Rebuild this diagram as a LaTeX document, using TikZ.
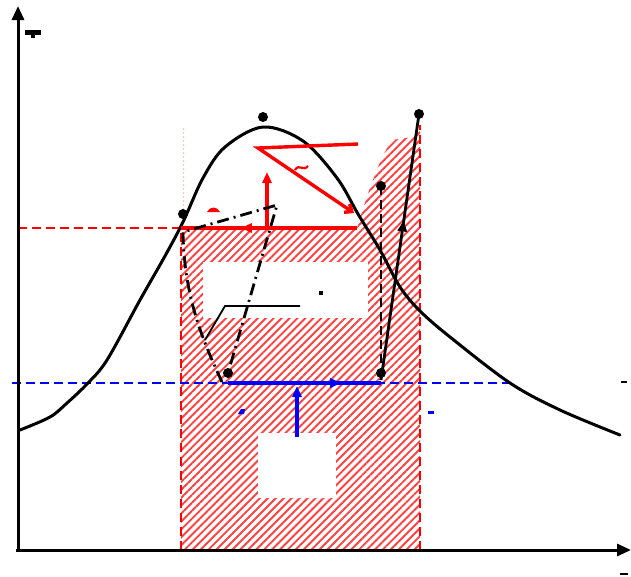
\documentclass[tikz,border=0pt]{standalone}
\usetikzlibrary{arrows.meta,patterns.meta,decorations.markings}

\tikzset{
  axisline/.style={line width=3pt, -{Triangle[length=14pt,width=12pt]}},
  domeline/.style={line width=3pt, line cap=round},
  hatchred/.style={pattern={Lines[angle=45,distance=5.6pt,line width=1.9pt]}, pattern color=red!75},
  statept/.style={circle, fill=black, inner sep=0pt, minimum size=10pt},
  redline/.style={red, line width=3.4pt},
  blueline/.style={blue, line width=3.4pt},
  reddash/.style={red, line width=2.2pt, dash pattern=on 9pt off 5pt},
  bluedash/.style={blue, line width=2.2pt, dash pattern=on 9pt off 5pt},
  dashdot/.style={black, line width=2.8pt, dash pattern=on 12pt off 5pt on 2pt off 5pt},
  midarrow/.style={postaction={decorate}, decoration={markings,
    mark=at position #1 with {\arrow{Triangle[length=11pt,width=9pt]}}}},
  uparrow/.style={-{Triangle[length=11pt,width=9pt]}},
}

\begin{document}
\begin{tikzpicture}[x=1pt, y=-1pt]
\useasboundingbox (0,0) rectangle (631,576);
% state points
\coordinate (a) at (183,214);
\coordinate (crit) at (263,117);
\coordinate (b) at (228,373);
\coordinate (c) at (381,186);
\coordinate (d) at (381,373);
\coordinate (e) at (419,114);
% levels
\coordinate (hl) at (181,228);
\coordinate (hr) at (357,228);
\coordinate (ll) at (228,383);
\coordinate (lr) at (381,383);

% Hatched area with blanked boxes
\path[hatchred] (181,550) -- (hl) -- (hr) .. controls (364,205) and (378,160) .. (392,140)
  -- (413,137) -- (420,125) -- (420,550) -- cycle;
\fill[white] (203,262) rectangle (368,318);
\fill[white] (258,433) rectangle (336,498);

% Isobar levels
\draw[reddash] (18,228) -- (hl);
\draw[bluedash] (12,383) -- (512,383);
\draw[reddash] (181,550) -- (hl);
\draw[reddash] (420,550) -- (420,125);
\draw[red!25, line width=0.8pt, dash pattern=on 2pt off 2pt] (183,128) -- (183,210);

% Saturation dome
\draw[domeline] plot[smooth, tension=0.55] coordinates {
  (20,430) (50,417) (67,403) (87,384) (107,360) (140,300) (165,256) (183,222)
  (203,178) (225,147) (263,127) (303,141) (337,178)
  (358,214) (380,250) (400,287) (420,311) (450,337) (510,383) (560,410) (620,435)};

% Axes
\draw[axisline] (18,552) -- (18,6);
\draw[axisline] (16,550) -- (631,550);

% Heat rejection (red)
\draw[redline, midarrow=0.66] (hr) -- (hl);
\draw[redline, uparrow] (267,228) -- (267,172);
\draw[redline, -{Straight Barb[length=6pt,width=10pt]}] (358,144) -- (258,148) -- (354,213);

% Heat input (blue)
\draw[blueline, midarrow=0.74] (ll) -- (lr);
\draw[blueline, uparrow] (297,437) -- (297,386);

% Cycle lines
\draw[dashdot] (222,382) .. controls (205,345) and (184,300) .. (183,232) -- (277,205) -- (b);
\draw[line width=2.8pt, dash pattern=on 9pt off 5pt] (c) -- (d);
\draw[line width=2.8pt, midarrow=0.6] (381,380) -- (e);
\draw[line width=1.8pt] (300,306) -- (225,306) -- (205,340);

% State point dots
\foreach \p in {a,crit,b,c,d,e}
  \node[statept] at (\p) {};

% Clipped label remnants
\fill (25,30) rectangle (41,35);
\fill (31,35) rectangle (35,38);
\fill[red] (207,212) .. controls (210,206) and (217,206) .. (220,212) -- cycle;
\draw[red, line width=2.2pt] (295,170) .. controls (299,163) and (303,172) .. (308,166);
\fill (319,291) rectangle (323,295);
\fill[blue] (238,414) -- (241,409) -- (245,409) -- (244,414) -- cycle;
\fill[blue] (428,411) rectangle (434,414);
\fill (621,381) rectangle (627,383);
\fill (620,573) rectangle (628,575);
\end{tikzpicture}
\end{document}
